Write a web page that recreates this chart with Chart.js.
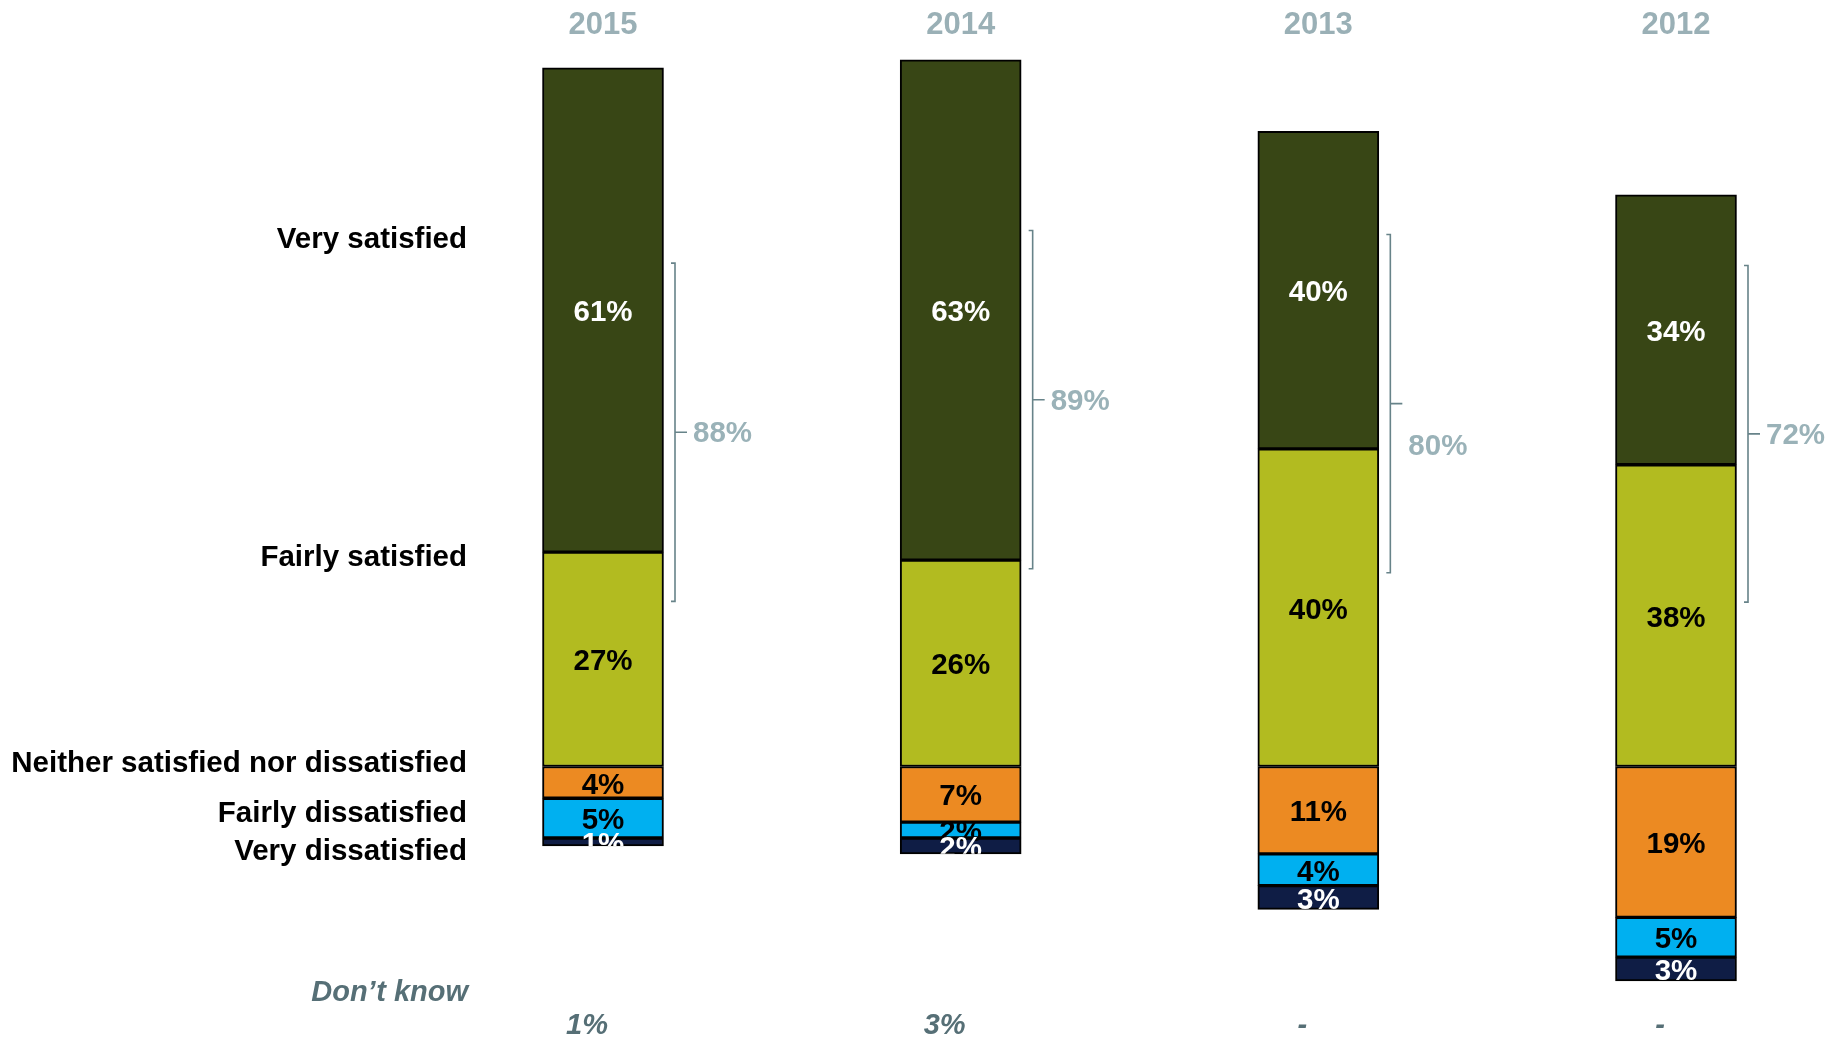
<!DOCTYPE html>
<html>
<head>
<meta charset="utf-8">
<script src="https://cdn.jsdelivr.net/npm/chart.js@4.4.1/dist/chart.umd.min.js"></script>
<style>
  html, body { margin: 0; padding: 0; background: #fff; }
  #wrap { width: 1832px; height: 1039px; position: relative; }
</style>
</head>
<body>
<div id="wrap"><canvas id="satChart"></canvas></div>
<script>
// data
const years = ['2015', '2014', '2013', '2012'];
const verySatisfied = [61, 63, 40, 34];
const fairlySatisfied = [27, 26, 40, 38];
const neitherNor = [4, 7, 11, 19];
const fairlyDissatisfied = [5, 2, 4, 5];
const veryDissatisfied = [1, 2, 3, 3];
const netSatisfied = [88, 89, 80, 72];
const dontKnow = ['1%', '3%', '-', '-'];

// where the brackets and side labels sit, in % units on the value axis
const bracketLo = [20.8, 24.9, 24.4, 20.7];
const bracketHi = [63.4, 67.5, 67.0, 63.1];
const bracketTextAt = [42.1, 46.2, 40.5, 41.9];
const sideLabels = ['Very satisfied', 'Fairly satisfied', 'Neither satisfied nor dissatisfied', 'Fairly dissatisfied', 'Very dissatisfied'];
const sideLabelAt = [66.7, 26.6, 0.6, -5.7, -10.4];

const FONT = '"Liberation Sans", Arial, Helvetica, sans-serif';
const neg = arr => arr.map(v => -v);

// positive stack grows up from the baseline, the rest hangs below it
const datasets = [
  { label: 'Fairly satisfied', data: fairlySatisfied, backgroundColor: '#b2bb20', textColor: '#000' },
  { label: 'Very satisfied', data: verySatisfied, backgroundColor: '#384615', textColor: '#fff' },
  { label: 'Neither satisfied nor dissatisfied', data: neg(neitherNor), backgroundColor: '#ec8a22', textColor: '#000' },
  { label: 'Fairly dissatisfied', data: neg(fairlyDissatisfied), backgroundColor: '#00b0f0', textColor: '#000' },
  { label: 'Very dissatisfied', data: neg(veryDissatisfied), backgroundColor: '#0f1d45', textColor: '#fff' }
].map(d => Object.assign(d, {
  borderColor: '#000',
  borderWidth: 2,
  borderSkipped: false,
  barThickness: 121,
  clip: false
}));

const extras = {
  id: 'extras',
  afterDatasetsDraw(chart) {
    const ctx = chart.ctx;
    const ys = chart.scales.y;

    years.forEach((yr, i) => {
      const bars = chart.data.datasets.map((d, di) => chart.getDatasetMeta(di).data[i]);
      const top = Math.min(...bars.map(b => Math.min(b.y, b.base)));
      const bot = Math.max(...bars.map(b => Math.max(b.y, b.base)));
      const cx = bars[0].x;
      const w = bars[0].width;

      // segment labels, clipped to the whole bar
      ctx.save();
      ctx.beginPath();
      ctx.rect(cx - w / 2, top, w, bot - top);
      ctx.clip();
      ctx.font = 'bold 29.5px ' + FONT;
      ctx.textAlign = 'center';
      ctx.textBaseline = 'middle';
      bars.forEach((b, di) => {
        const ds = chart.data.datasets[di];
        ctx.fillStyle = ds.textColor;
        ctx.fillText(Math.abs(ds.data[i]) + '%', cx, (b.y + b.base) / 2 + 3);
      });
      ctx.restore();

      // year heading
      ctx.save();
      ctx.font = 'bold 31px ' + FONT;
      ctx.fillStyle = '#9ab0b6';
      ctx.textAlign = 'center';
      ctx.textBaseline = 'middle';
      ctx.fillText(yr, cx, 25);

      // net satisfied bracket
      const lx = cx + 72;
      const y1 = ys.getPixelForValue(bracketHi[i]);
      const y2 = ys.getPixelForValue(bracketLo[i]);
      const ym = ys.getPixelForValue((bracketHi[i] + bracketLo[i]) / 2);
      ctx.strokeStyle = '#678389';
      ctx.lineWidth = 1.6;
      ctx.beginPath();
      ctx.moveTo(lx - 4, y1);
      ctx.lineTo(lx, y1);
      ctx.lineTo(lx, y2);
      ctx.lineTo(lx - 4, y2);
      ctx.moveTo(lx, ym);
      ctx.lineTo(lx + 12, ym);
      ctx.stroke();
      ctx.font = 'bold 29.5px ' + FONT;
      ctx.fillStyle = '#9ab2b8';
      ctx.textAlign = 'left';
      ctx.fillText(netSatisfied[i] + '%', lx + 18, ys.getPixelForValue(bracketTextAt[i]) + 2);

      // don't know row
      ctx.font = 'italic bold 29px ' + FONT;
      ctx.fillStyle = '#566f76';
      ctx.textAlign = 'center';
      ctx.fillText(dontKnow[i], cx - 16, ys.getPixelForValue(-32.6) + 1);
      ctx.restore();
    });

    // series names on the left
    ctx.save();
    ctx.font = 'bold 29.5px ' + FONT;
    ctx.fillStyle = '#000';
    ctx.textAlign = 'right';
    ctx.textBaseline = 'middle';
    sideLabels.forEach((name, k) => {
      ctx.fillText(name, 467, ys.getPixelForValue(sideLabelAt[k]) + 2.5);
    });
    ctx.font = 'italic bold 29px ' + FONT;
    ctx.fillStyle = '#566f76';
    ctx.fillText('Don\u2019t know', 468, ys.getPixelForValue(-28.4) + 1);
    ctx.restore();
  }
};

new Chart(document.getElementById('satChart'), {
  type: 'bar',
  data: { labels: years, datasets: datasets },
  options: {
    responsive: true,
    maintainAspectRatio: false,
    animation: false,
    layout: { padding: { left: 603, right: 156, top: 0, bottom: 0 } },
    plugins: { legend: { display: false }, tooltip: { enabled: false } },
    scales: {
      x: { stacked: true, offset: false, display: false },
      y: { stacked: true, display: false, min: -34.32, max: 96.54 }
    }
  },
  plugins: [extras]
});
</script>
</body>
</html>
